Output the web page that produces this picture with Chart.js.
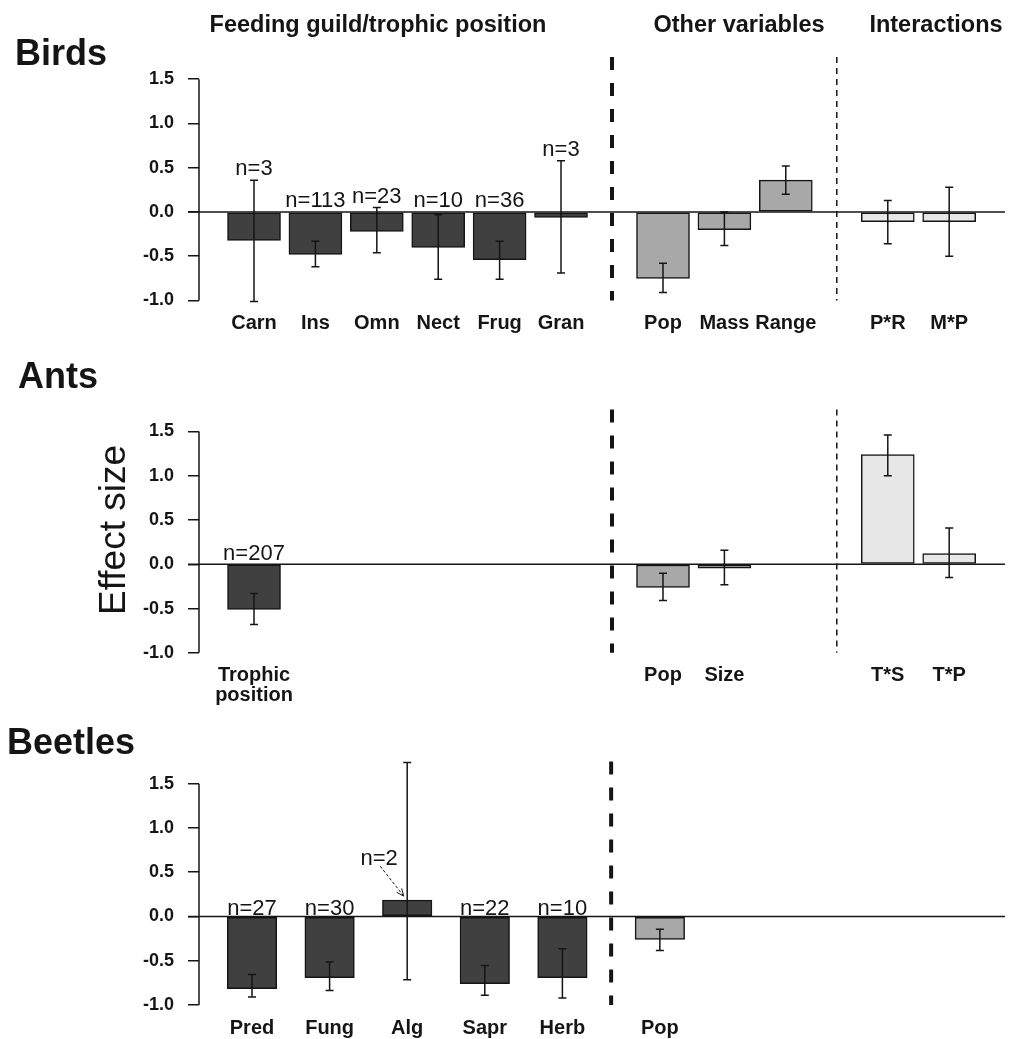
<!DOCTYPE html>
<html><head><meta charset="utf-8">
<script src="https://cdn.jsdelivr.net/npm/chart.js@4.4.1/dist/chart.umd.min.js"></script>
<style>
html,body{margin:0;padding:0;background:#fff;}
#wrap{position:relative;width:1009px;height:1039px;overflow:hidden;background:#fff;}
canvas{position:absolute;left:0;}
</style></head><body>
<div id="wrap">
<canvas id="birds" width="1009" height="350" style="top:0px"></canvas>
<canvas id="ants" width="1009" height="365" style="top:350px"></canvas>
<canvas id="beetles" width="1009" height="339" style="top:700px"></canvas>
</div>
<script>
// ---------------- DATA ----------------
const yTicks = [-1.0, -0.5, 0.0, 0.5, 1.0, 1.5];
const groupHeaders = ['Feeding guild/trophic position', 'Other variables', 'Interactions'];

// Birds
const birdLabels   = ['Carn', 'Ins', 'Omn', 'Nect', 'Frug', 'Gran', 'Pop', 'Mass', 'Range', 'P*R', 'M*P'];
const birdGroups   = [0, 0, 0, 0, 0, 0, 1, 1, 1, 2, 2];
const birdValues   = [-0.32, -0.48, -0.22, -0.40, -0.54, -0.06, -0.75, -0.20, 0.36, -0.11, -0.11];
const birdErrLow   = [-1.01, -0.62, -0.46, -0.76, -0.76, -0.69, -0.91, -0.38, 0.20, -0.36, -0.50];
const birdErrHigh  = [0.36, -0.33, 0.05, -0.03, -0.33, 0.58, -0.58, 0.00, 0.52, 0.13, 0.28];
const birdN        = ['n=3', 'n=113', 'n=23', 'n=10', 'n=36', 'n=3', '', '', '', '', ''];

// Ants
const antLabels    = [['Trophic', 'position'], 'Pop', 'Size', 'T*S', 'T*P'];
const antGroups    = [0, 1, 1, 2, 2];
const antValues    = [-0.51, -0.26, -0.045, 1.24, 0.12];
const antErrLow    = [-0.68, -0.41, -0.23, 1.00, -0.15];
const antErrHigh   = [-0.33, -0.10, 0.16, 1.46, 0.41];
const antN         = ['n=207', '', '', '', ''];

// Beetles
const beetleLabels  = ['Pred', 'Fung', 'Alg', 'Sapr', 'Herb', 'Pop'];
const beetleGroups  = [0, 0, 0, 0, 0, 1];
const beetleValues  = [-0.815, -0.69, 0.185, -0.76, -0.69, -0.26];
const beetleErrLow  = [-0.91, -0.835, -0.715, -0.89, -0.92, -0.385];
const beetleErrHigh = [-0.655, -0.515, 1.74, -0.555, -0.365, -0.145];
const beetleN       = ['n=27', 'n=30', 'n=2', 'n=22', 'n=10', ''];

// ---------------- STYLE / LAYOUT ----------------
const FONT = "'Liberation Sans', Arial, Helvetica, sans-serif";
const INK = '#151515';
const FILLS = ['#404040', '#a8a8a8', '#e7e7e7'];
const AXIS_W = 199, PLOT_W = 1009 - 199 - 4;

function buildPanel(canvasId, d, L, extraText) {
  // slot positions from group structure
  const groupStart = [];
  let acc = 0;
  L.groupSlots.forEach(s => { groupStart.push(acc); acc += s; });
  const counter = {};
  const pos = d.groups.map(g => {
    const k = counter[g] || 0; counter[g] = k + 1;
    return L.first + groupStart[g] + k + g * L.gap;
  });
  const dividers = [];
  for (let g = 1; g < L.groupSlots.length; g++) {
    const lastPrev = L.first + groupStart[g] - 1 + (g - 1) * L.gap;
    const firstNext = L.first + groupStart[g] + g * L.gap;
    dividers.push((lastPrev + firstNext) / 2);
  }

  const decor = {
    id: 'decor_' + canvasId,
    afterDatasetsDraw(chart) {
      const ctx = chart.ctx, xs = chart.scales.x, ys = chart.scales.y, a = chart.chartArea;
      ctx.save();
      ctx.strokeStyle = INK; ctx.fillStyle = INK;
      // dividers
      dividers.forEach((dv, i) => {
        const x = xs.getPixelForValue(dv);
        ctx.beginPath();
        ctx.setLineDash(i === 0 ? [13, 13] : [6, 5]);
        ctx.lineWidth = i === 0 ? 4 : 1.5;
        ctx.moveTo(x, a.top); ctx.lineTo(x, a.bottom); ctx.stroke();
      });
      ctx.setLineDash([]);
      ctx.lineWidth = 1.5;
      // zero line
      const y0 = ys.getPixelForValue(0);
      ctx.beginPath(); ctx.moveTo(a.left - 11, y0); ctx.lineTo(a.right, y0); ctx.stroke();
      // y axis line (first to last tick)
      ctx.beginPath();
      ctx.moveTo(a.left, ys.getPixelForValue(yTicks[0]));
      ctx.lineTo(a.left, ys.getPixelForValue(yTicks[yTicks.length - 1]));
      ctx.stroke();
      // error bars
      d.values.forEach((v, i) => {
        const x = xs.getPixelForValue(pos[i]);
        const yl = ys.getPixelForValue(d.errLow[i]), yh = ys.getPixelForValue(d.errHigh[i]);
        ctx.beginPath();
        ctx.moveTo(x, yl); ctx.lineTo(x, yh);
        ctx.moveTo(x - 4, yl); ctx.lineTo(x + 4, yl);
        ctx.moveTo(x - 4, yh); ctx.lineTo(x + 4, yh);
        ctx.stroke();
      });
      // n labels
      ctx.font = '22px ' + FONT;
      ctx.textAlign = 'center'; ctx.textBaseline = 'alphabetic';
      d.nLabels.forEach((t, i) => {
        if (!t) return;
        const x = xs.getPixelForValue(pos[i]);
        if (L.callout && L.callout.index === i) {
          const lx = x + L.callout.dx, ly = ys.getPixelForValue(L.callout.labelValue);
          ctx.fillText(t, lx, ly);
          const sx = lx + 1, sy = ly + 1;
          const ex = x - 3.5, ey = ys.getPixelForValue(d.values[i]) - 4;
          ctx.save();
          ctx.lineWidth = 1;
          ctx.setLineDash([3, 2]);
          ctx.beginPath(); ctx.moveTo(sx, sy); ctx.lineTo(ex, ey); ctx.stroke();
          ctx.setLineDash([]);
          const ang = Math.atan2(ey - sy, ex - sx), hl = 8;
          ctx.beginPath();
          ctx.moveTo(ex - hl * Math.cos(ang - 0.4), ey - hl * Math.sin(ang - 0.4));
          ctx.lineTo(ex, ey);
          ctx.lineTo(ex - hl * Math.cos(ang + 0.4), ey - hl * Math.sin(ang + 0.4));
          ctx.stroke();
          ctx.restore();
        } else {
          const y = ys.getPixelForValue(Math.max(d.errHigh[i], 0)) - L.nOffset;
          ctx.fillText(t, x, y);
        }
      });
      // category labels
      ctx.font = 'bold 20px ' + FONT;
      d.labels.forEach((lab, i) => {
        const x = xs.getPixelForValue(pos[i]);
        const lines = Array.isArray(lab) ? lab : [lab];
        lines.forEach((ln, j) => ctx.fillText(ln, x, a.bottom + 28.5 + j * 19.5));
      });
      // free text (titles, headers)
      extraText.forEach(t => {
        ctx.save();
        ctx.font = t.font;
        ctx.textAlign = t.align || 'left';
        ctx.textBaseline = 'alphabetic';
        ctx.translate(t.x, t.y);
        if (t.rotate) ctx.rotate(t.rotate);
        ctx.fillText(t.text, 0, 0);
        ctx.restore();
      });
      ctx.restore();
    }
  };

  return new Chart(document.getElementById(canvasId), {
    type: 'bar',
    data: {
      datasets: [{
        data: d.values.map((v, i) => ({ x: pos[i], y: v })),
        backgroundColor: d.groups.map(g => FILLS[g]),
        borderColor: INK,
        borderWidth: 1.5,
        borderSkipped: false,
        barThickness: L.barPx
      }]
    },
    options: {
      responsive: false,
      animation: false,
      devicePixelRatio: 1,
      layout: { padding: { left: 0, right: 4, top: L.padTop, bottom: L.padBottom } },
      plugins: { legend: { display: false }, tooltip: { enabled: false } },
      scales: {
        x: { type: 'linear', display: false, offset: false, min: 0, max: PLOT_W / L.stepPx },
        y: {
          min: -1, max: 1.75,
          afterFit: s => { s.width = AXIS_W; },
          afterBuildTicks: s => { s.ticks = yTicks.map(v => ({ value: v })); },
          border: { display: false },
          grid: { drawOnChartArea: false, drawTicks: true, tickLength: 11, color: INK, lineWidth: 1.5 },
          ticks: {
            padding: 14, color: INK, autoSkip: false,
            font: { family: FONT, weight: 'bold', size: 18 },
            callback: v => Number(v).toFixed(1)
          }
        }
      }
    },
    plugins: [decor]
  });
}

const birdLayoutShared = { groupSlots: [6, 3, 2], stepPx: 61.4, first: 0.896, gap: 0.661, barPx: 53, nOffset: 5 };

buildPanel('birds',
  { labels: birdLabels, groups: birdGroups, values: birdValues, errLow: birdErrLow, errHigh: birdErrHigh, nLabels: birdN },
  Object.assign({}, birdLayoutShared, { padTop: 57.1, padBottom: 49.5 }),
  [
    { text: 'Birds', x: 15, y: 65, font: 'bold 36px ' + FONT },
    { text: groupHeaders[0], x: 378, y: 31.5, font: 'bold 23.5px ' + FONT, align: 'center' },
    { text: groupHeaders[1], x: 739, y: 31.5, font: 'bold 23.5px ' + FONT, align: 'center' },
    { text: groupHeaders[2], x: 936, y: 31.5, font: 'bold 23.5px ' + FONT, align: 'center' }
  ]);

buildPanel('ants',
  { labels: antLabels, groups: antGroups, values: antValues, errLow: antErrLow, errHigh: antErrHigh, nLabels: antN },
  Object.assign({}, birdLayoutShared, { padTop: 59.4, padBottom: 62.2, nOffset: 4 }),
  [
    { text: 'Ants', x: 18, y: 38.3, font: 'bold 36px ' + FONT },
    { text: 'Effect size', x: 125, y: 180, font: '37px ' + FONT, align: 'center', rotate: -Math.PI / 2 }
  ]);

buildPanel('beetles',
  { labels: beetleLabels, groups: beetleGroups, values: beetleValues, errLow: beetleErrLow, errHigh: beetleErrHigh, nLabels: beetleN },
  { groupSlots: [5, 1], stepPx: 77.6, first: 0.683, gap: 0.256, barPx: 49.5, nOffset: 1.5,
    padTop: 61.6, padBottom: 34, callout: { index: 2, labelValue: 0.58, dx: -28 } },
  [
    { text: 'Beetles', x: 7, y: 54.3, font: 'bold 36px ' + FONT }
  ]);
</script>
</body></html>
